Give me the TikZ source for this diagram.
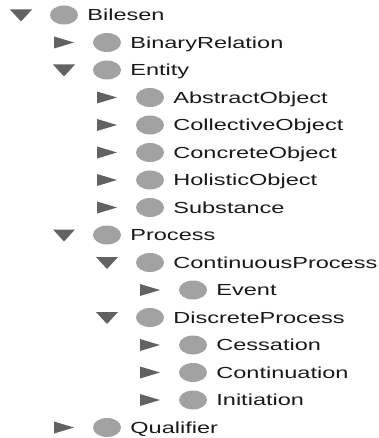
\documentclass[tikz,border=0pt]{standalone}
\usepackage{fontspec}
\newfontfamily\treefont[FakeStretch=1.47]{Liberation Sans}
\usepackage{xcolor}
\usepackage{tikz}
\usetikzlibrary{positioning,shapes.geometric}
\definecolor{bulletgray}{HTML}{A2A2A2}
\definecolor{togglegray}{HTML}{626262}
\tikzstyle{bullet} = [ellipse, fill=bulletgray, minimum width=28pt, minimum height=19pt, inner sep=0pt]
\tikzstyle{treelabel} = [inner sep=0pt, text height=11.5pt, text depth=0pt, font=\treefont\fontsize{16pt}{18pt}\selectfont, text=black!90]

\begin{document}
\begin{tikzpicture}[x=1pt, y=1pt]
		\useasboundingbox (0,0) rectangle (379,-438);
		\foreach \lvl/\open/\txt [count=\i from 0] in {
			0/1/Bilesen, 1/0/BinaryRelation, 1/1/Entity,
			2/0/AbstractObject, 2/0/CollectiveObject, 2/0/ConcreteObject,
			2/0/HolisticObject, 2/0/Substance, 1/1/Process,
			2/1/ContinuousProcess, 3/0/Event, 2/1/DiscreteProcess,
			3/0/Cessation, 3/0/Continuation, 3/0/Initiation, 1/0/Qualifier} {
			\node (c\i) [bullet] at (64+43*\lvl, -15-27.5*\i) {};
			\node (t\i) [treelabel, right=9pt of c\i] {\txt};
			% open rows get a down arrow, closed ones a right arrow
			\ifnum\open=1
				\fill [togglegray] ([xshift=-54pt, yshift=5.5pt]c\i.center) -- ++(22,0) -- ++(-11,-12) -- cycle;
			\else
				\fill [togglegray] ([xshift=-53pt, yshift=6pt]c\i.center) -- ++(0,-12) -- ++(20,6) -- cycle;
			\fi
		}
	\end{tikzpicture}
\end{document}
